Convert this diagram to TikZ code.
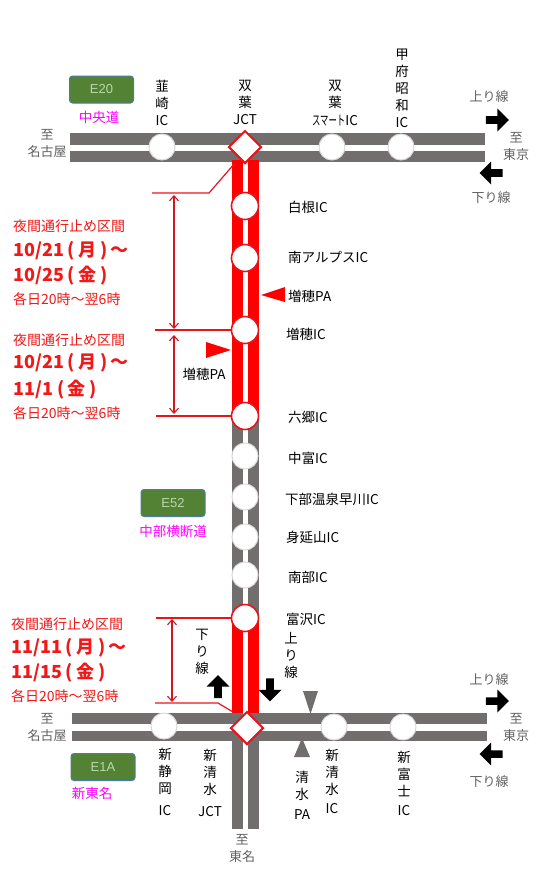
\documentclass[tikz,border=0pt]{standalone}
\usepackage{fontspec}
\setmainfont{Noto Sans CJK JP}
\newfontfamily\latinf{Liberation Sans}
\usetikzlibrary{shapes.geometric,shapes.arrows,arrows.meta,backgrounds}
\definecolor{roadgrey}{HTML}{726E6E}
\definecolor{redtxt}{HTML}{F01818}
\definecolor{redline}{HTML}{E8141C}
\definecolor{redarrow}{HTML}{D01820}
\definecolor{paletri}{HTML}{FF0000}
\definecolor{routegreen}{HTML}{548235}
\definecolor{routeedge}{HTML}{4A7EA0}
\definecolor{routetxt}{HTML}{B8D8A8}
\definecolor{greytxt}{HTML}{606060}
\definecolor{pinkname}{HTML}{FF00FF}
\newcommand{\fsz}[2]{\fontsize{#1}{#2}\selectfont}
\newcommand{\wkday}[1]{\hspace{4pt}(\hspace{3.5pt}#1\hspace{3.5pt})}
\tikzset{
  x=1pt,y=-1pt,
  ic/.style={circle,fill=white,draw=black!15,line width=1pt,minimum size=26,inner sep=0},
  redic/.style={circle,fill=white,draw=redline,line width=1.6pt,minimum size=27,inner sep=0},
  jct/.style={diamond,fill=white,draw=redline,line width=2pt,minimum width=33,minimum height=33,inner sep=0},
  lab/.style={font=\fsz{13.5}{17},text=black,align=center,inner sep=0},
  side/.style={lab,anchor=west},
  dest/.style={font=\fsz{13}{17},text=greytxt,align=center,inner sep=0},
  dirn/.style={font=\fsz{13}{16},text=greytxt,inner sep=0},
  route/.style={rounded corners=3pt,fill=routegreen,draw=routeedge,line width=1pt,minimum width=64,minimum height=27,inner sep=0,text=routetxt,font=\latinf\fsz{13}{15}},
  roadname/.style={font=\fsz{13.5}{16},text=pinkname,inner sep=0},
  rhead/.style={font=\fsz{14}{16},text=redtxt,anchor=west,inner sep=0},
  rdate/.style={font=\bfseries\fsz{18}{20},text=redtxt,anchor=west,inner sep=0},
  rtime/.style={font=\fsz{14}{16},text=redtxt,anchor=west,inner sep=0},
  blockarrow/.style={single arrow,fill=black,minimum height=23,minimum width=23,single arrow head extend=3.5,inner sep=1.5,shape border rotate=#1},
  road/.style={line width=#1,draw=roadgrey},
  redroad/.style={line width=27,draw=red},
  centre/.style={line width=#1,draw=white},
  callout/.style={draw=redline,line width=1.2pt},
  span/.style={draw=redarrow,line width=1.1pt,{Straight Barb[length=5pt,width=9pt]}-{Straight Barb[length=5pt,width=9pt]}},
  tri/.style={fill=#1},
}
\begin{document}
\begin{tikzpicture}
\useasboundingbox (0,0) rectangle (543,884);
% interchanges
\node[jct] (futaba) at (245,147) {};
\node[ic] (nirasaki) at (162,147) {};
\node[ic] (smart) at (332,147) {};
\node[ic] (kofu) at (401,147) {};
\node[redic] (shirane) at (245,206) {};
\node[redic] (minami) at (245,258) {};
\node[redic] (masuho) at (245,330) {};
\node[redic] (rokugo) at (245,416) {};
\node[ic] (nakatomi) at (245,456) {};
\node[ic] (shimobe) at (245,497) {};
\node[ic] (minobu) at (245,537) {};
\node[ic] (nanbu) at (245,575) {};
\node[redic] (tomizawa) at (245,618) {};
\node[jct] (shimizuj) at (247,728) {};
\node[ic] (shizuoka) at (164,726) {};
\node[ic] (shimizu) at (334,727) {};
\node[ic] (fuji) at (403,727) {};
% free ends
\coordinate (tw) at (70,147.5);
\coordinate (te) at (485,147.5);
\coordinate (bw) at (72,727);
\coordinate (be) at (487,727);
\coordinate (vs) at (245.5,829);
\coordinate (vtop) at (245.5,160);
\coordinate (vred) at (245.5,713);
\begin{scope}[on background layer]
  \draw[road=29] (tw) -- (te);
  \draw[centre=6] (tw) -- (te);
  \draw[road=28] (bw) -- (be);
  \draw[road=27] (rokugo.center -| vs) -- (vs);
  \draw[centre=7] (bw) -- (be);
  \draw[centre=5.5] (rokugo.center -| vs) -- (vs);
  \draw[redroad] (vtop) -- (rokugo.center -| vs);
  \draw[centre=5.5] (vtop) -- (rokugo.center -| vs);
  \draw[redroad] (tomizawa.center -| vs) -- (vred);
  \draw[centre=5.5] (tomizawa.center -| vs) -- (vred);
\end{scope}
% route plates
\node[route] (e20) at (101.5,89.5) {E20};
\node[roadname] (chuo) at (99,117) {中央道};
\node[route] (e52) at (173,503) {E52};
\node[roadname] (chubu) at (173,531) {中部横断道};
\node[route] (e1a) at (103,767) {E1A};
\node[roadname] (shintomei) at (92,793) {新東名};
% top labels
\node[lab] (l1) at (162,102.5) {韮\\崎\\IC};
\node[lab] (l2) at (245,102.5) {双\\葉\\JCT};
\node[lab] (l3) at (335,103) {双\\葉\\[1pt]\scalebox{0.62}[1]{スマート}IC};
\node[lab] (l4) at (402,88) {甲\\府\\昭\\和\\IC};
% destinations
\node[dest] (d1) at (47,143.5) {至\\名古屋};
\node[dest] (d2) at (516,146.5) {至\\東京};
\node[dest] (d3) at (47,727.5) {至\\名古屋};
\node[dest] (d4) at (516,727) {至\\東京};
\node[dest] (d5) at (242,848.5) {至\\東名};
\node[dirn] (u1) at (489,97) {上り線};
\node[dirn] (s1) at (491,198) {下り線};
\node[dirn] (u2) at (489,680) {上り線};
\node[dirn] (s2) at (489,782) {下り線};
\node[blockarrow=0] (au1) at (495.5,120) {};
\node[blockarrow=180] (as1) at (493,173) {};
\node[blockarrow=0] (au2) at (495.5,701) {};
\node[blockarrow=180] (as2) at (493,754) {};
\node[blockarrow=90] (aup) at (218,688.5) {};
\node[blockarrow=270] (adn) at (270,688) {};
% side labels
\node[side] (n1) at (288,207) {白根IC};
\node[side] (n2) at (288,257) {南アルプスIC};
\node[side] (n3) at (288,296) {増穂PA};
\node[side] (n4) at (286,334) {増穂IC};
\node[side] (n5) at (288,417) {六郷IC};
\node[side] (n6) at (288,458) {中富IC};
\node[side] (n7) at (285,499) {下部温泉早川IC};
\node[side] (n8) at (286,537) {身延山IC};
\node[side] (n9) at (288,577) {南部IC};
\node[side] (n10) at (286,619) {富沢IC};
\node[lab] (pa) at (204,374) {増穂PA};
\node[lab] (vd) at (202,651.5) {下\\り\\線};
\node[lab] (vu) at (291,655.5) {上\\り\\線};
% bottom labels
\node[lab,anchor=north] (b1) at (165,748) {新\\静\\岡\\[5pt]IC};
\node[lab,anchor=north] (b2) at (210,749) {新\\清\\水\\[5pt]JCT};
\node[lab,anchor=north] (b3) at (302,771) {清\\水\\[3pt]PA};
\node[lab,anchor=north] (b4) at (332,749) {新\\清\\水\\[2pt]IC};
\node[lab,anchor=north] (b5) at (404,751) {新\\富\\士\\[2pt]IC};
% PA triangles
\fill[tri=paletri] (261,295) -- (285,287) -- (285,302) -- cycle;
\fill[tri=paletri] (231,350) -- (206,342) -- (206,358) -- cycle;
\fill[tri=roadgrey] (310.5,714) -- (303,691) -- (318,691) -- cycle;
\fill[tri=roadgrey] (302,738) -- (294,757) -- (310,757) -- cycle;
% closure text
\node[rhead] (h1) at (13,226) {夜間通行止め区間};
\node[rdate] (a1) at (13,251) {10/21\wkday{月}\hspace{3pt}～};
\node[rdate] (b1d) at (13,276) {10/25\wkday{金}};
\node[rtime] (t1) at (13,299) {各日20時～翌6時};
\node[rhead] (h2) at (13,340) {夜間通行止め区間};
\node[rdate] (a2) at (13,363) {10/21\wkday{月}\hspace{3pt}～};
\node[rdate] (b2d) at (13,390) {11/1\wkday{金}};
\node[rtime] (t2) at (13,413) {各日20時～翌6時};
\node[rhead] (h3) at (11,624) {夜間通行止め区間};
\node[rdate] (a3) at (11,648) {11/11\wkday{月}\hspace{3pt}～};
\node[rdate] (b3d) at (11,673) {11/15\wkday{金}};
\node[rtime] (t3) at (11,696) {各日20時～翌6時};
% callouts
\coordinate (c1a) at (152,193);
\coordinate (c1b) at (209,193);
\coordinate (c1c) at (235,163);
\coordinate (c2) at (155,330);
\coordinate (c3) at (156,416);
\coordinate (c4) at (156,618);
\coordinate (c5a) at (155,703);
\coordinate (c5b) at (218,703);
\coordinate (c5c) at (233,712);
\draw[callout] (c1a) -- (c1b) -- (c1c);
\draw[callout] (c2) -- (masuho.west);
\draw[callout] (c3) -- (rokugo.west);
\draw[callout] (c4) -- (tomizawa.west);
\draw[callout] (c5a) -- (c5b) -- (c5c);
\coordinate (s1a) at (174,195);
\coordinate (s1b) at (174,329);
\coordinate (s2a) at (174,335);
\coordinate (s2b) at (174,414);
\coordinate (s3a) at (172,619);
\coordinate (s3b) at (172,702);
\draw[span] (s1a) -- (s1b);
\draw[span] (s2a) -- (s2b);
\draw[span] (s3a) -- (s3b);
\end{tikzpicture}
\end{document}
